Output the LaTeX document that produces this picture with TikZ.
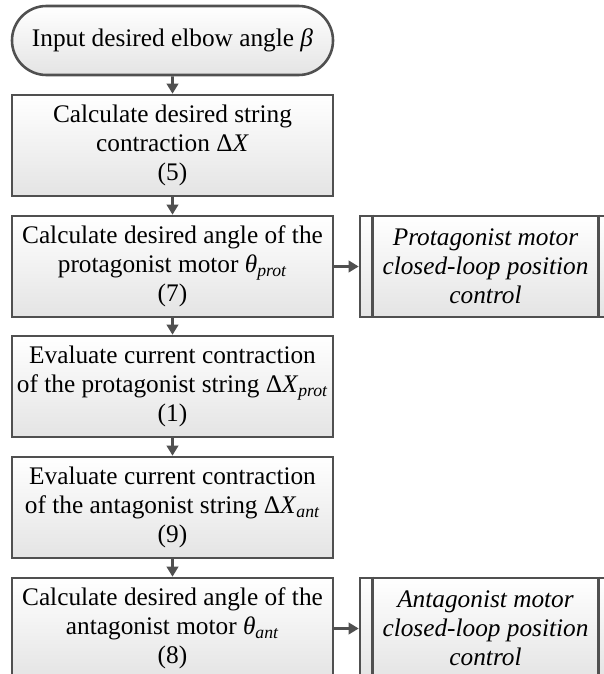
\documentclass[tikz,border=0pt]{standalone}
\usepackage{fontspec}
\setmainfont{Liberation Serif}
\usetikzlibrary{arrows.meta,shapes.misc}

\definecolor{edgegray}{HTML}{505050}
\definecolor{fillgray}{HTML}{E4E4E4}

\begin{document}
\begin{tikzpicture}[x=0.03cm, y=-0.03cm,
	box/.style={draw=edgegray, line width=2.2pt, top color=white, bottom color=fillgray,
		minimum width=9.63cm, minimum height=3.03cm, align=center, inner sep=0pt,
		font=\fontsize{21.6}{24.8}\selectfont},
	sidebox/.style={box, minimum width=7.53cm, font=\fontsize{21.6}{24.8}\selectfont\itshape},
	flow/.style={draw=edgegray, line width=2.2pt, -{Triangle[length=0.3cm, width=0.34cm]}}]

	\useasboundingbox (0,0) rectangle (603,674);

	\node[box, rounded rectangle, minimum height=2.07cm] (input) at (172.5,40.5) {Input desired elbow angle \textit{β}};
	\node[box] (contr) at (172.5,145.5) {Calculate desired string\\contraction Δ\textit{X}\\(5)};
	\node[box] (protang) at (172.5,266.5) {Calculate desired angle of the\\protagonist motor \textit{θ}\textsubscript{\textit{prot}}\\(7)};
	\node[box] (protcur) at (172.5,386.5) {Evaluate current contraction\\of the protagonist string Δ\textit{X}\textsubscript{\textit{prot}}\\(1)};
	\node[box] (antcur) at (172.5,507.5) {Evaluate current contraction\\of the antagonist string Δ\textit{X}\textsubscript{\textit{ant}}\\(9)};
	\node[box] (antang) at (172.5,628.5) {Calculate desired angle of the\\antagonist motor \textit{θ}\textsubscript{\textit{ant}}\\(8)};

	\node[sidebox] (protctl) at (485.5,266.5) {Protagonist motor\\closed-loop position\\control};
	\node[sidebox] (antctl) at (485.5,628.5) {Antagonist motor\\closed-loop position\\control};

	\foreach \n in {protctl, antctl} {
		\draw[edgegray, line width=2.2pt] ([xshift=0.42cm]\n.north west) -- ([xshift=0.42cm]\n.south west);
		\draw[edgegray, line width=2.2pt] ([xshift=-0.42cm]\n.north east) -- ([xshift=-0.42cm]\n.south east);
	}

	\draw[flow] (input) -- (contr);
	\draw[flow] (contr) -- (protang);
	\draw[flow] (protang) -- (protcur);
	\draw[flow] (protcur) -- (antcur);
	\draw[flow] (antcur) -- (antang);
	\draw[flow] (protang) -- (protctl);
	\draw[flow] (antang) -- (antctl);

\end{tikzpicture}
\end{document}
